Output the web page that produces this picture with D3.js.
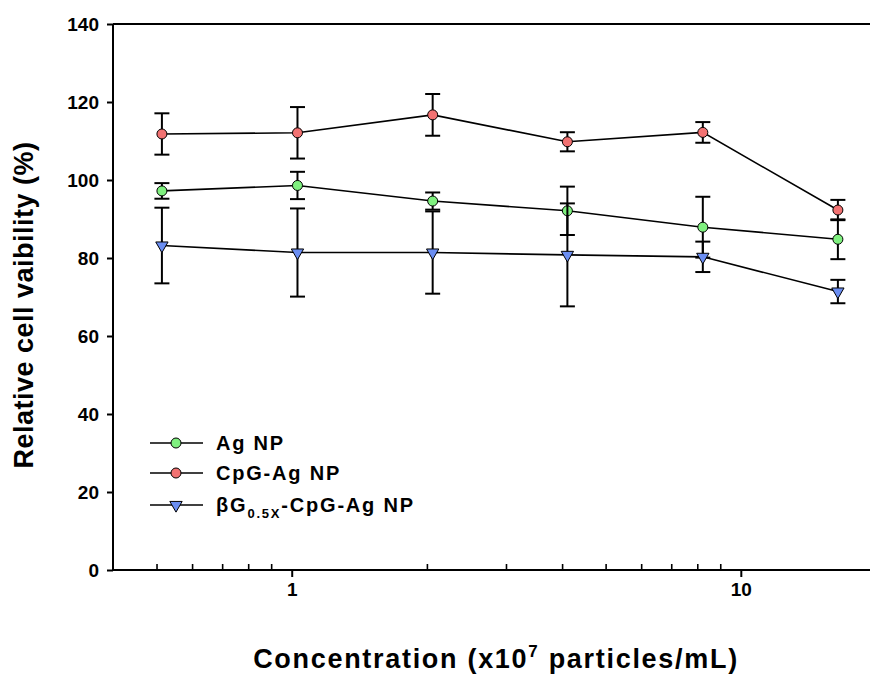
<!DOCTYPE html>
<html>
<head>
<meta charset="utf-8">
<script src="https://cdn.jsdelivr.net/npm/d3@7"></script>
<style>
  html, body { margin: 0; padding: 0; background: #fff; }
  svg { display: block; font-family: "Liberation Sans", Arial, sans-serif; }
</style>
</head>
<body>
<svg id="chart" width="870" height="675"></svg>
<script>
// Concentrations (x10^7 particles/mL), doubling series
const concentrations = [0.514, 1.03, 2.06, 4.11, 8.23, 16.45];

// Relative cell viability (%) and error (SD) per series
const agNP      = [97.2, 98.6, 94.6, 92.1, 87.9, 84.8];
const agNPErr   = [2.0, 3.5, 2.2, 6.2, 7.8, 5.1];
const cpgAgNP    = [111.8, 112.1, 116.7, 109.8, 112.2, 92.3];
const cpgAgNPErr = [5.3, 6.6, 5.35, 2.45, 2.65, 2.6];
const bgCpgAgNP    = [83.2, 81.4, 81.4, 80.8, 80.3, 71.4];
const bgCpgAgNPErr = [9.7, 11.3, 10.55, 13.2, 3.9, 3.0];

const yTicks = [0, 20, 40, 60, 80, 100, 120, 140];
const xMajorTicks = [1, 10];
const xMinorTicks = [0.5, 0.6, 0.7, 0.8, 0.9, 2, 3, 4, 5, 6, 7, 8, 9];

const series = [
  { name: "Ag NP", values: agNP, err: agNPErr, color: "#7ff07f", symbol: "circle" },
  { name: "CpG-Ag NP", values: cpgAgNP, err: cpgAgNPErr, color: "#f27272", symbol: "circle" },
  { name: "βG", sub: "0.5X", rest: "-CpG-Ag NP", values: bgCpgAgNP, err: bgCpgAgNPErr, color: "#6b8ef2", symbol: "triangle" }
];

const svg = d3.select("#chart");
const x = d3.scaleLog().domain([0.4, 20]).range([113, 876]);
const y = d3.scaleLinear().domain([0, 140]).range([570, 24]);

// Frame: left axis and top border
const frame = svg.append("g").attr("stroke", "#000").attr("stroke-width", 2).attr("fill", "none");
frame.append("line").attr("x1", x.range()[0]).attr("x2", x.range()[0]).attr("y1", y(0)).attr("y2", y(140));
frame.append("line").attr("x1", x.range()[0]).attr("x2", x.range()[1]).attr("y1", y(140)).attr("y2", y(140));

// Y axis
const yAxis = d3.axisLeft(y).tickValues(yTicks).tickSize(6).tickPadding(8).tickFormat(d3.format("d"));
const gy = svg.append("g").attr("transform", `translate(${x.range()[0]},0)`).call(yAxis);
gy.select(".domain").remove();
gy.selectAll(".tick line").attr("stroke", "#000").attr("stroke-width", 2);
gy.selectAll(".tick text")
  .attr("font-family", "Liberation Sans, Arial, sans-serif")
  .attr("font-size", 19).attr("font-weight", "bold").attr("fill", "#000");

// X axis: major ticks outward with labels, minor ticks inward
const xAxis = d3.axisBottom(x).tickValues(xMajorTicks).tickSize(7).tickPadding(6).tickFormat(d3.format("d"));
const gx = svg.append("g").attr("transform", `translate(0,${y(0)})`).call(xAxis);
gx.select(".domain").attr("stroke", "#000").attr("stroke-width", 2)
  .attr("d", `M${x.range()[0]},0H${x.range()[1]}`);
gx.selectAll(".tick line").attr("stroke", "#000").attr("stroke-width", 2);
gx.selectAll(".tick text")
  .attr("font-family", "Liberation Sans, Arial, sans-serif")
  .attr("font-size", 19).attr("font-weight", "bold").attr("fill", "#000");

const xMinor = d3.axisBottom(x).tickValues(xMinorTicks).tickSize(-6).tickFormat("");
const gxm = svg.append("g").attr("transform", `translate(0,${y(0)})`).call(xMinor);
gxm.select(".domain").remove();
gxm.selectAll(".tick line").attr("stroke", "#000").attr("stroke-width", 1.6);

// Symbols
const circleSym = d3.symbol().type(d3.symbolCircle).size(Math.PI * 25);
const triSym = d3.symbol().type(d3.symbolTriangle).size(66);
function drawMarker(g, s, cx, cy) {
  if (s.symbol === "circle") {
    g.append("path").attr("d", circleSym()).attr("transform", `translate(${cx},${cy})`)
      .attr("fill", s.color).attr("stroke", "#000").attr("stroke-width", 1);
  } else {
    g.append("path").attr("d", triSym()).attr("transform", `translate(${cx},${cy}) rotate(180)`)
      .attr("fill", s.color).attr("stroke", "#000").attr("stroke-width", 1);
  }
}

const line = d3.line().x(d => x(d.c)).y(d => y(d.v));
const capHalf = 7.5;

series.forEach(s => {
  const pts = concentrations.map((c, i) => ({ c, v: s.values[i], e: s.err[i] }));
  const g = svg.append("g");
  g.append("path").datum(pts).attr("d", line)
    .attr("fill", "none").attr("stroke", "#000").attr("stroke-width", 1.6);
  const eb = g.append("g").attr("stroke", "#000").attr("stroke-width", 2);
  pts.forEach(p => {
    const px = x(p.c), top = y(p.v + p.e), bot = y(p.v - p.e);
    eb.append("line").attr("x1", px).attr("x2", px).attr("y1", top).attr("y2", bot);
    eb.append("line").attr("x1", px - capHalf).attr("x2", px + capHalf).attr("y1", top).attr("y2", top);
    eb.append("line").attr("x1", px - capHalf).attr("x2", px + capHalf).attr("y1", bot).attr("y2", bot);
  });
  pts.forEach(p => drawMarker(g, s, x(p.c), y(p.v)));
});

// Legend
const legendRows = [443, 473, 505];
const legend = svg.append("g");
series.forEach((s, i) => {
  const ly = legendRows[i];
  legend.append("line").attr("x1", 150).attr("x2", 203).attr("y1", ly).attr("y2", ly)
    .attr("stroke", "#000").attr("stroke-width", 1.6);
  drawMarker(legend, s, 176, ly);
  const t = legend.append("text").attr("x", 216).attr("y", ly + 7)
    .attr("font-size", 20).attr("font-weight", "bold").attr("letter-spacing", 1.8).attr("fill", "#000");
  if (s.sub) {
    t.append("tspan").text(s.name);
    t.append("tspan").attr("font-size", 13).attr("dy", 6).text(s.sub);
    t.append("tspan").attr("font-size", 20).attr("dy", -6).text(s.rest);
  } else {
    t.text(s.name);
  }
});

// Axis titles
svg.append("text")
  .attr("transform", `translate(33,${(y(0) + y(140)) / 2 + 8}) rotate(-90)`)
  .attr("text-anchor", "middle").attr("font-size", 27).attr("font-weight", "bold")
  .attr("letter-spacing", 0.5).attr("fill", "#000")
  .text("Relative cell vaibility (%)");

const xt = svg.append("text")
  .attr("x", 496).attr("y", 668).attr("text-anchor", "middle")
  .attr("font-size", 27).attr("font-weight", "bold").attr("letter-spacing", 1.7).attr("fill", "#000");
xt.append("tspan").text("Concentration (x10");
xt.append("tspan").attr("font-size", 17).attr("dy", -11).text("7");
xt.append("tspan").attr("dy", 11).text(" particles/mL)");
</script>
</body>
</html>
